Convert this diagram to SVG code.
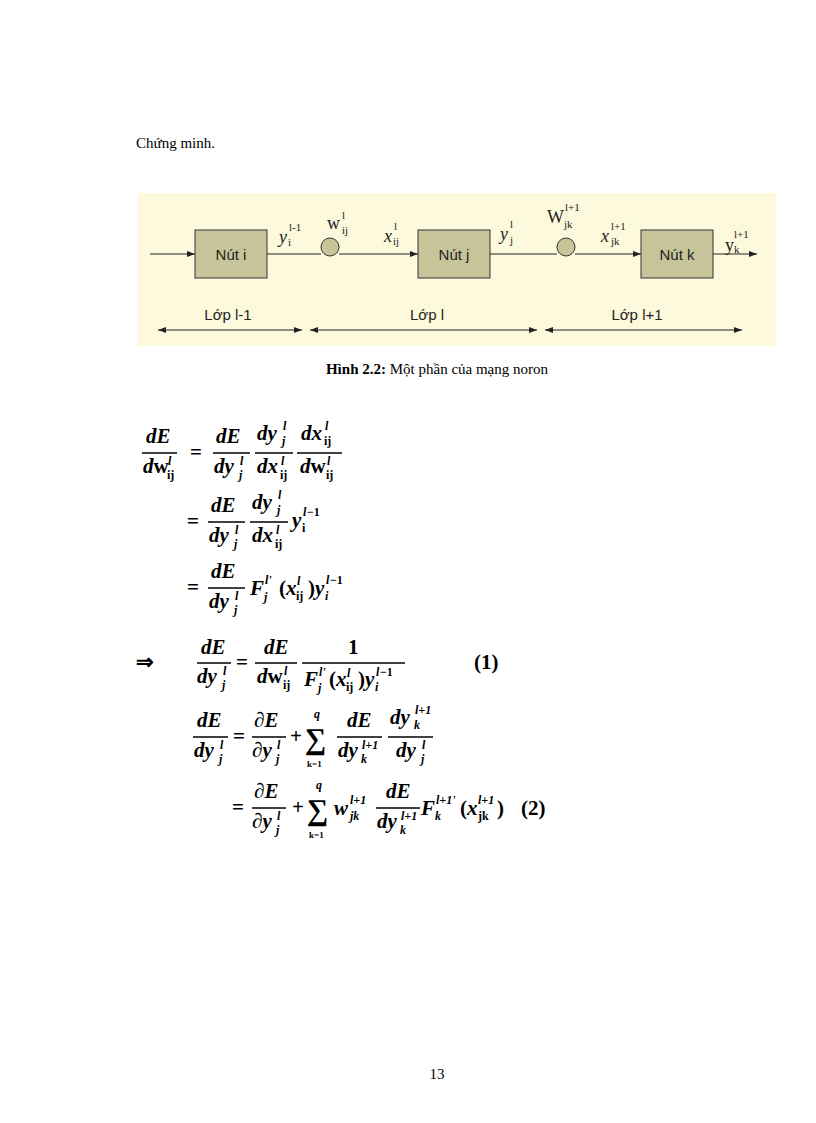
<svg xmlns="http://www.w3.org/2000/svg" width="816" height="1123" viewBox="0 0 816 1123">
<defs>
<marker id="ah" markerWidth="8" markerHeight="6" refX="8" refY="3" orient="auto-start-reverse" markerUnits="userSpaceOnUse"><path d="M0,0 L8,3 L0,6 z" fill="#222"/></marker>
<style>
.t{font-family:"Liberation Serif",serif;fill:#000}
.s{font-family:"Liberation Sans",Arial,sans-serif;fill:#222}
.m{font-family:"Liberation Serif",serif;font-weight:bold;font-style:italic;font-size:21px;fill:#000}
.u{font-size:12px}
.r{font-style:normal}
.sig{font-size:30px;font-style:normal}
.k1{font-size:9px;font-style:normal}
.ln{stroke:#000;stroke-width:1.3}
.box{fill:#c8c49a;stroke:#333;stroke-width:1}
.c{stroke:#222;stroke-width:1.2;fill:none}
.lab{font-family:"Liberation Serif",serif;font-size:18px;fill:#222}
.sub{font-family:"Liberation Serif",serif;font-size:11px;fill:#222}
</style>
</defs>
<rect width="816" height="1123" fill="#fff"/>
<text class="t" x="136" y="148" font-size="15">Chứng minh.</text>
<rect x="138" y="193" width="638" height="153" fill="#fdf9dc"/>
<g id="connectors">
<line class="c" x1="150" y1="254" x2="195" y2="254" marker-end="url(#ah)"/>
<line class="c" x1="267" y1="254" x2="321" y2="254"/>
<line class="c" x1="339" y1="254" x2="418" y2="254" marker-end="url(#ah)"/>
<line class="c" x1="490" y1="254" x2="557" y2="254"/>
<line class="c" x1="575" y1="254" x2="641" y2="254" marker-end="url(#ah)"/>
<line class="c" x1="713" y1="254" x2="757" y2="254" marker-end="url(#ah)"/>
<line class="c" x1="158" y1="330" x2="302" y2="330" marker-start="url(#ah)" marker-end="url(#ah)"/>
<line class="c" x1="310" y1="330" x2="537" y2="330" marker-start="url(#ah)" marker-end="url(#ah)"/>
<line class="c" x1="545" y1="330" x2="742" y2="330" marker-start="url(#ah)" marker-end="url(#ah)"/>
</g>
<g id="nut-i"><rect class="box" x="195" y="230" width="72" height="48"/><text class="s" x="231" y="260" font-size="15" text-anchor="middle">Nút i</text></g>
<g id="nut-j"><rect class="box" x="418" y="230" width="72" height="48"/><text class="s" x="454" y="260" font-size="15" text-anchor="middle">Nút j</text></g>
<g id="nut-k"><rect class="box" x="641" y="230" width="72" height="48"/><text class="s" x="677" y="260" font-size="15" text-anchor="middle">Nút k</text></g>
<g id="w1"><circle cx="330" cy="247" r="9" fill="#c8c49a" stroke="#333"/></g>
<g id="w2"><circle cx="566" cy="247" r="9" fill="#c8c49a" stroke="#333"/></g>
<g id="labels">
<text class="lab" x="279" y="243" font-style="italic">y</text><text class="sub" x="289" y="231">l-1</text><text class="sub" x="288" y="246">i</text>
<text class="lab" x="327" y="229">w</text><text class="sub" x="342" y="219">l</text><text class="sub" x="342" y="234">ij</text>
<text class="lab" x="384" y="242" font-style="italic">x</text><text class="sub" x="394" y="230">l</text><text class="sub" x="393" y="245">ij</text>
<text class="lab" x="500" y="240" font-style="italic">y</text><text class="sub" x="510" y="228">l</text><text class="sub" x="510" y="244">j</text>
<text class="lab" x="547" y="223">W</text><text class="sub" x="565" y="211">l+1</text><text class="sub" x="564" y="228">jk</text>
<text class="lab" x="601" y="242" font-style="italic">x</text><text class="sub" x="611" y="230">l+1</text><text class="sub" x="611" y="245">jk</text>
<text class="lab" x="725" y="251">y</text><text class="sub" x="734" y="238">l+1</text><text class="sub" x="734" y="253">k</text>
<text class="s" x="228" y="320" font-size="15" text-anchor="middle">Lớp l-1</text>
<text class="s" x="427" y="320" font-size="15" text-anchor="middle">Lớp l</text>
<text class="s" x="637" y="320" font-size="15" text-anchor="middle">Lớp l+1</text>
</g>
<text class="t" x="437" y="374" font-size="15" text-anchor="middle"><tspan font-weight="bold">Hình 2.2:</tspan> Một phần của mạng noron</text>

<g id="equations">
<text class="m" x="146" y="443">dE</text><line class="ln" x1="142" y1="453" x2="177" y2="453"/>
<text class="m" x="143" y="473">d<tspan class="r">w</tspan></text><text class="m u" x="168" y="465">l</text><text class="m u r" x="167" y="479">ij</text>
<text class="m r" x="190" y="459">=</text>
<text class="m" x="216" y="443">dE</text><line class="ln" x1="213" y1="453" x2="250" y2="453"/>
<text class="m" x="214" y="473">dy</text><text class="m u" x="240" y="465">l</text><text class="m u" x="239" y="479">j</text>
<text class="m" x="257" y="440">dy</text><text class="m u" x="283" y="430">l</text><text class="m u" x="282" y="445">j</text><line class="ln" x1="255" y1="453" x2="293" y2="453"/>
<text class="m" x="257" y="473">dx</text><text class="m u" x="281" y="465">l</text><text class="m u r" x="280" y="479">ij</text>
<text class="m" x="301" y="440">dx</text><text class="m u" x="325" y="430">l</text><text class="m u r" x="324" y="445">ij</text><line class="ln" x1="297" y1="453" x2="342" y2="453"/>
<text class="m" x="300" y="473">d<tspan class="r">w</tspan></text><text class="m u" x="327" y="465">l</text><text class="m u r" x="326" y="479">ij</text>

<text class="m r" x="187" y="528">=</text>
<text class="m" x="211" y="512">dE</text><line class="ln" x1="208" y1="522" x2="245" y2="522"/>
<text class="m" x="209" y="542">dy</text><text class="m u" x="235" y="534">l</text><text class="m u" x="234" y="548">j</text>
<text class="m" x="252" y="509">dy</text><text class="m u" x="278" y="499">l</text><text class="m u" x="277" y="514">j</text><line class="ln" x1="250" y1="522" x2="288" y2="522"/>
<text class="m" x="252" y="542">dx</text><text class="m u" x="276" y="534">l</text><text class="m u r" x="275" y="548">ij</text>
<text class="m" x="292" y="527">y</text><text class="m u" x="303" y="516">l</text><text class="m u r" x="307" y="516">−1</text><text class="m u r" x="302" y="532">i</text>

<text class="m r" x="187" y="594">=</text>
<text class="m" x="211" y="578">dE</text><line class="ln" x1="208" y1="588" x2="245" y2="588"/>
<text class="m" x="209" y="608">dy</text><text class="m u" x="235" y="600">l</text><text class="m u" x="234" y="614">j</text>
<text class="m" x="250" y="595">F</text><text class="m u" x="265" y="584">l'</text><text class="m u" x="264" y="601">j</text>
<text class="m r" x="279" y="595">(</text><text class="m" x="286" y="595">x</text><text class="m u" x="297" y="585">l</text><text class="m u r" x="296" y="600">ij</text><text class="m r" x="308" y="595">)</text>
<text class="m" x="315" y="595">y</text><text class="m u" x="326" y="584">l</text><text class="m u r" x="330" y="584">−1</text><text class="m u" x="325" y="600">i</text>

<text class="m r" x="136" y="669">⇒</text>
<text class="m" x="201" y="654">dE</text><line class="ln" x1="197" y1="663" x2="231" y2="663"/>
<text class="m" x="197" y="683">dy</text><text class="m u" x="223" y="675">l</text><text class="m u" x="222" y="689">j</text>
<text class="m r" x="236" y="669">=</text>
<text class="m" x="264" y="654">dE</text><line class="ln" x1="255" y1="663" x2="297" y2="663"/>
<text class="m" x="257" y="683">d<tspan class="r">w</tspan></text><text class="m u" x="284" y="675">l</text><text class="m u r" x="283" y="689">ij</text>
<text class="m r" x="348" y="654">1</text><line class="ln" x1="302" y1="663" x2="405" y2="663"/>
<text class="m" x="304" y="686">F</text><text class="m u" x="319" y="676">l'</text><text class="m u" x="318" y="692">j</text>
<text class="m r" x="329" y="686">(</text><text class="m" x="336" y="686">x</text><text class="m u" x="347" y="677">l</text><text class="m u r" x="346" y="691">ij</text><text class="m r" x="358" y="686">)</text>
<text class="m" x="365" y="686">y</text><text class="m u" x="376" y="676">l</text><text class="m u r" x="380" y="676">−1</text><text class="m u" x="375" y="691">i</text>
<text class="m r" x="474" y="669">(1)</text>

<text class="m" x="197" y="727">dE</text><line class="ln" x1="193" y1="737" x2="228" y2="737"/>
<text class="m" x="194" y="757">dy</text><text class="m u" x="220" y="749">l</text><text class="m u" x="219" y="763">j</text>
<text class="m r" x="233" y="743">=</text>
<text class="m" x="254" y="727"><tspan class="r">∂</tspan>E</text><line class="ln" x1="252" y1="737" x2="286" y2="737"/>
<text class="m" x="252" y="757"><tspan class="r">∂</tspan>y</text><text class="m u" x="277" y="749">l</text><text class="m u" x="276" y="763">j</text>
<text class="m r" x="290" y="743">+</text>
<text class="m sig" x="305" y="749">∑</text><text class="m u" x="314" y="718">q</text><text class="m k1" x="307" y="767">k=1</text>
<text class="m" x="347" y="727">dE</text><line class="ln" x1="337" y1="737" x2="382" y2="737"/>
<text class="m" x="338" y="757">dy</text><text class="m u" x="362" y="749">l+1</text><text class="m u" x="361" y="763">k</text>
<text class="m" x="390" y="724">dy</text><text class="m u" x="415" y="714">l+1</text><text class="m u" x="414" y="729">k</text><line class="ln" x1="388" y1="737" x2="433" y2="737"/>
<text class="m" x="396" y="757">dy</text><text class="m u" x="422" y="749">l</text><text class="m u" x="421" y="763">j</text>

<text class="m r" x="232" y="814">=</text>
<text class="m" x="254" y="798"><tspan class="r">∂</tspan>E</text><line class="ln" x1="252" y1="808" x2="286" y2="808"/>
<text class="m" x="252" y="828"><tspan class="r">∂</tspan>y</text><text class="m u" x="277" y="820">l</text><text class="m u" x="276" y="834">j</text>
<text class="m r" x="292" y="814">+</text>
<text class="m sig" x="307" y="820">∑</text><text class="m u" x="316" y="789">q</text><text class="m k1" x="309" y="838">k=1</text>
<text class="m" x="334" y="815">w</text><text class="m u" x="350" y="804">l+1</text><text class="m u" x="350" y="820">jk</text>
<text class="m" x="386" y="798">dE</text><line class="ln" x1="376" y1="808" x2="420" y2="808"/>
<text class="m" x="377" y="828">dy</text><text class="m u" x="401" y="820">l+1</text><text class="m u" x="400" y="834">k</text>
<text class="m" x="421" y="815">F</text><text class="m u" x="436" y="804">l+1'</text><text class="m u" x="435" y="820">k</text>
<text class="m r" x="460" y="815">(</text><text class="m" x="467" y="815">x</text><text class="m u" x="478" y="804">l+1</text><text class="m u r" x="478" y="820">jk</text><text class="m r" x="497" y="815">)</text>
<text class="m r" x="521" y="815">(2)</text>
</g>
<text class="t" x="437" y="1079" font-size="15" text-anchor="middle">13</text>
</svg>
